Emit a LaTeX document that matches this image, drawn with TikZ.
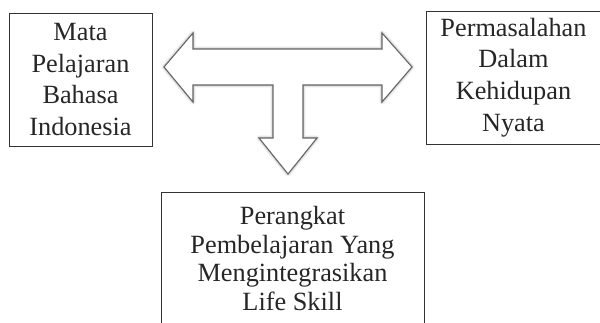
\documentclass[tikz,border=0pt]{standalone}
\usepackage{fontspec}
\setmainfont{Liberation Serif}
\usetikzlibrary{shadows.blur}

\newcommand*{\picw}{600}
\newcommand*{\pich}{322}

\begin{document}
\begin{tikzpicture}
[
	x=1pt, y=-1pt,
	infobox/.style={draw=black!80,line width=0.9pt,text=black!85,align=center,
		minimum height=133pt,inner sep=0pt,
		font=\fontsize{26.3}{31.7}\selectfont},
	blockarrow/.style={draw=black!60,line width=1.1pt,fill=white,line join=miter,
		blur shadow={shadow xshift=0pt,shadow yshift=0pt,shadow blur radius=3pt,shadow opacity=45}}
]

	\clip (0,0) rectangle (\picw,\pich);
	\useasboundingbox (0,0) rectangle (\picw,\pich);

	% boxes
	\node[infobox,minimum width=143pt] (mapel) at (80.5,79.5)
		{Mata\\Pelajaran\\Bahasa\\Indonesia};
	\node[infobox,minimum width=175pt] (masalah) at (513.5,77.5)
		{Permasalahan\\Dalam\\Kehidupan\\Nyata};
	\node[infobox,minimum width=263pt,font=\fontsize{26.3}{28.8}\selectfont] (perangkat) at (292.5,258.5)
		{Perangkat\\Pembelajaran Yang\\Mengintegrasikan\\Life Skill};

	% T-shaped arrow
	\draw[blockarrow] (164,67) -- (193,33) -- (193,49) -- (382,49) -- (382,33)
		-- (412,67) -- (382,102) -- (382,85) -- (303,85) -- (303,138)
		-- (317,138) -- (288,174) -- (259,138) -- (273,138) -- (273,85)
		-- (193,85) -- (193,102) -- cycle;

\end{tikzpicture}
\end{document}
